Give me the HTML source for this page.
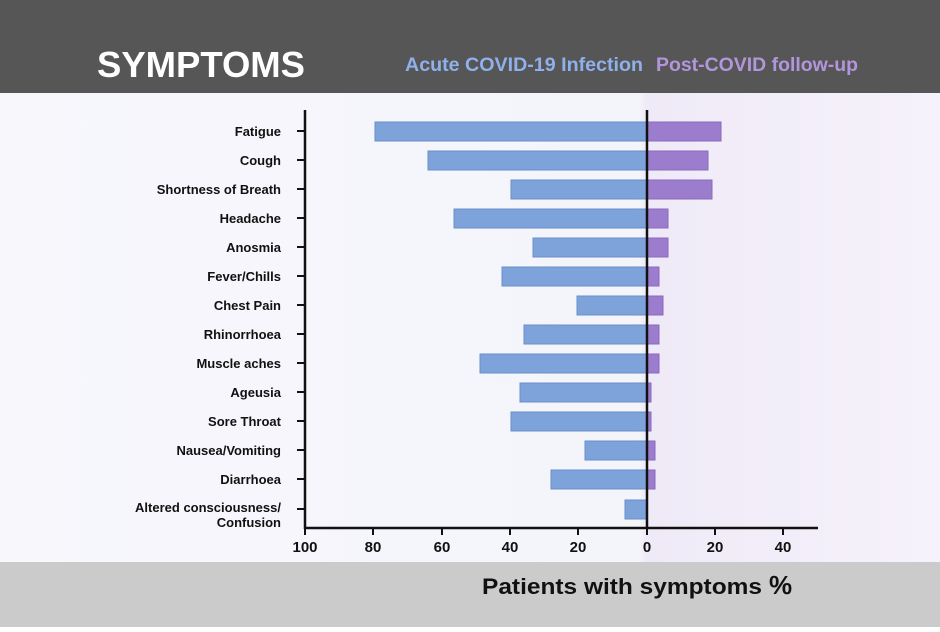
<!DOCTYPE html>
<html><head><style>
body{margin:0;width:940px;height:627px;overflow:hidden;font-family:"Liberation Sans",sans-serif;}
</style></head><body>
<svg width="940" height="627" xmlns="http://www.w3.org/2000/svg" font-family="Liberation Sans, sans-serif">
<defs>
<linearGradient id="g" x1="0" x2="1" y1="0" y2="0">
<stop offset="0" stop-color="#f7f7fc"/><stop offset="0.68" stop-color="#f4f5fb"/><stop offset="0.687" stop-color="#efeaf7"/><stop offset="1" stop-color="#f6f2fb"/>
</linearGradient>
</defs>
<rect x="0" y="0" width="940" height="627" fill="url(#g)"/>
<rect x="0" y="0" width="940" height="93" fill="#565656"/>
<text x="97" y="77" font-size="36" font-weight="bold" fill="#fff" textLength="208" lengthAdjust="spacingAndGlyphs">SYMPTOMS</text>
<text x="405" y="71" font-size="19" font-weight="bold" fill="#8fb0ea" textLength="238" lengthAdjust="spacingAndGlyphs">Acute COVID-19 Infection</text>
<text x="656" y="71" font-size="19" font-weight="bold" fill="#b296dc" textLength="202" lengthAdjust="spacingAndGlyphs">Post-COVID follow-up</text>
<rect x="0" y="562" width="940" height="65" fill="#cbcbcb"/>
<text x="482" y="594" font-size="22" font-weight="bold" fill="#111" textLength="280" lengthAdjust="spacingAndGlyphs">Patients with symptoms</text>
<text x="769" y="594" font-size="26" font-weight="bold" fill="#111">%</text>
<g fill="#7ea3da" stroke="#6a8ec8" stroke-width="1">
<rect x="375" y="122" width="272" height="19"/>
<rect x="428" y="151" width="219" height="19"/>
<rect x="511" y="180" width="136" height="19"/>
<rect x="454" y="209" width="193" height="19"/>
<rect x="533" y="238" width="114" height="19"/>
<rect x="502" y="267" width="145" height="19"/>
<rect x="577" y="296" width="70" height="19"/>
<rect x="524" y="325" width="123" height="19"/>
<rect x="480" y="354" width="167" height="19"/>
<rect x="520" y="383" width="127" height="19"/>
<rect x="511" y="412" width="136" height="19"/>
<rect x="585" y="441" width="62" height="19"/>
<rect x="551" y="470" width="96" height="19"/>
<rect x="625" y="500" width="22" height="19"/>
</g>
<g fill="#9c7ccd" stroke="#8a6abd" stroke-width="1">
<rect x="647" y="122" width="74" height="19"/>
<rect x="647" y="151" width="61" height="19"/>
<rect x="647" y="180" width="65" height="19"/>
<rect x="647" y="209" width="21" height="19"/>
<rect x="647" y="238" width="21" height="19"/>
<rect x="647" y="267" width="12" height="19"/>
<rect x="647" y="296" width="16" height="19"/>
<rect x="647" y="325" width="12" height="19"/>
<rect x="647" y="354" width="12" height="19"/>
<rect x="647" y="383" width="4" height="19"/>
<rect x="647" y="412" width="4" height="19"/>
<rect x="647" y="441" width="8" height="19"/>
<rect x="647" y="470" width="8" height="19"/>
</g>
<g stroke="#111" stroke-width="2.5">
<line x1="305" y1="110" x2="305" y2="529"/>
<line x1="304" y1="528" x2="818" y2="528"/>
<line x1="647" y1="110" x2="647" y2="529"/>
</g>
<g stroke="#111" stroke-width="2">
<line x1="297" y1="131" x2="305" y2="131"/><line x1="297" y1="160" x2="305" y2="160"/><line x1="297" y1="189" x2="305" y2="189"/><line x1="297" y1="218" x2="305" y2="218"/><line x1="297" y1="247" x2="305" y2="247"/><line x1="297" y1="276" x2="305" y2="276"/><line x1="297" y1="305" x2="305" y2="305"/><line x1="297" y1="334" x2="305" y2="334"/><line x1="297" y1="363" x2="305" y2="363"/><line x1="297" y1="392" x2="305" y2="392"/><line x1="297" y1="421" x2="305" y2="421"/><line x1="297" y1="450" x2="305" y2="450"/><line x1="297" y1="479" x2="305" y2="479"/><line x1="297" y1="509" x2="305" y2="509"/>
<line x1="305" y1="528" x2="305" y2="535"/><line x1="373" y1="528" x2="373" y2="535"/><line x1="442" y1="528" x2="442" y2="535"/><line x1="510" y1="528" x2="510" y2="535"/><line x1="578" y1="528" x2="578" y2="535"/><line x1="647" y1="528" x2="647" y2="535"/><line x1="715" y1="528" x2="715" y2="535"/><line x1="783" y1="528" x2="783" y2="535"/>
</g>
<g font-size="13" font-weight="bold" fill="#111" text-anchor="end">
<text x="281" y="136">Fatigue</text><text x="281" y="165">Cough</text><text x="281" y="194">Shortness of Breath</text><text x="281" y="223">Headache</text><text x="281" y="252">Anosmia</text><text x="281" y="281">Fever/Chills</text><text x="281" y="310">Chest Pain</text><text x="281" y="339">Rhinorrhoea</text><text x="281" y="368">Muscle aches</text><text x="281" y="397">Ageusia</text><text x="281" y="426">Sore Throat</text><text x="281" y="455">Nausea/Vomiting</text><text x="281" y="484">Diarrhoea</text><text x="281" y="512">Altered consciousness/</text><text x="281" y="527">Confusion</text>
</g>
<g font-size="15" font-weight="bold" fill="#111" text-anchor="middle">
<text x="305" y="552">100</text><text x="373" y="552">80</text><text x="442" y="552">60</text><text x="510" y="552">40</text><text x="578" y="552">20</text><text x="647" y="552">0</text><text x="715" y="552">20</text><text x="783" y="552">40</text>
</g>
</svg>
</body></html>
